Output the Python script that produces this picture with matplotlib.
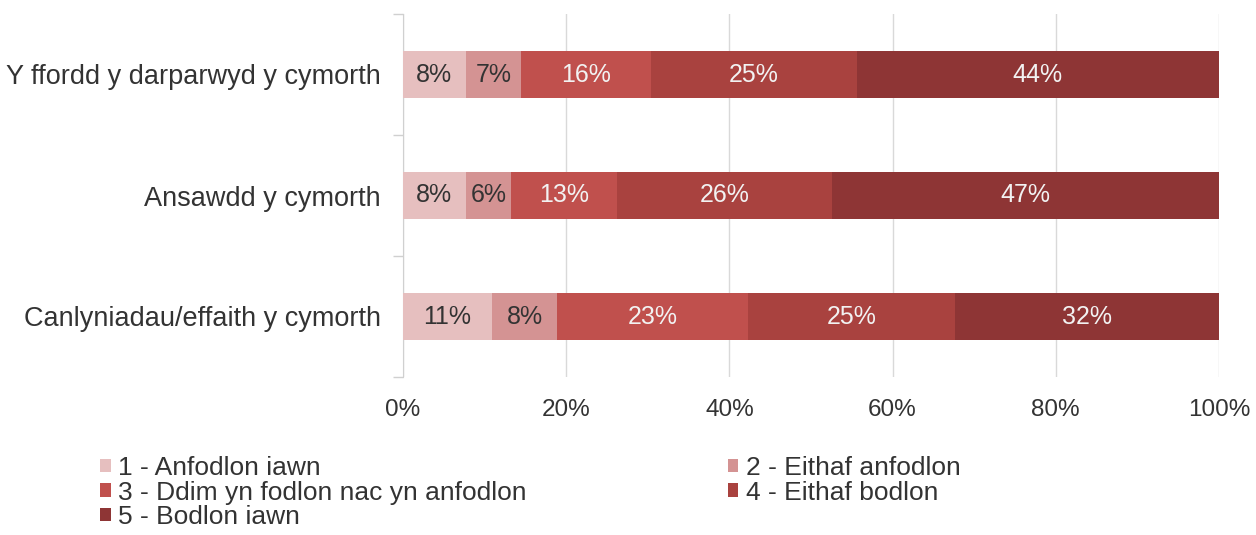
import matplotlib
matplotlib.use("Agg")
import matplotlib.pyplot as plt
from matplotlib.patches import Patch
import numpy as np

plt.rcParams['font.family'] = ['Liberation Sans', 'DejaVu Sans']

categories = ["Y ffordd y darparwyd y cymorth", "Ansawdd y cymorth", "Canlyniadau/effaith y cymorth"]
series_names = ["1 - Anfodlon iawn", "2 - Eithaf anfodlon", "3 - Ddim yn fodlon nac yn anfodlon",
                "4 - Eithaf bodlon", "5 - Bodlon iawn"]
# share (%) per category for each response level
s1 = [7.7, 7.7, 10.9]
s2 = [6.8, 5.5, 8.0]
s3 = [15.9, 13.0, 23.4]
s4 = [25.2, 26.4, 25.4]
s5 = [44.4, 47.4, 32.3]
series = [s1, s2, s3, s4, s5]
colors = ["#e6bfbf", "#d49393", "#c0504d", "#a9423f", "#8e3535"]
text_colors = ["#333333", "#333333", "#f2f2f2", "#f2f2f2", "#f2f2f2"]
xticks = [0, 20, 40, 60, 80, 100]

fig = plt.figure(figsize=(12.56, 5.35), dpi=100)
ax = fig.add_axes([403/1256, 1-377/535, (1219-403)/1256, (377-14)/535])

y = np.arange(len(categories))
left = np.zeros(len(categories))
for vals, c, tc in zip(series, colors, text_colors):
    vals = np.array(vals)
    ax.barh(y, vals, left=left, height=0.39, color=c, zorder=3)
    for yi, l, v in zip(y, left, vals):
        ax.text(l + v/2, yi, f"{v:.0f}%", ha='center', va='center', fontsize=18, color=tc, zorder=4)
    left += vals

ax.set_xlim(0, 100)
ax.set_ylim(2.5, -0.5)
ax.set_xticks(xticks)
ax.set_xticklabels([f"{t}%" for t in xticks], fontsize=17.5, color="#333333")
ax.set_yticks(y)
ax.set_yticklabels(categories, fontsize=19.5, color="#333333")
ax.set_yticks([-0.5, 0.5, 1.5, 2.5], minor=True)
ax.tick_params(axis='y', which='major', length=0, pad=16)
ax.tick_params(axis='y', which='minor', length=7, color="#d0d0d0", width=1)
ax.tick_params(axis='x', length=0, pad=16)
ax.grid(axis='x', color="#d9d9d9", linewidth=1, zorder=0)
for side in ['top', 'right', 'bottom']:
    ax.spines[side].set_visible(False)
ax.spines['left'].set_color("#d0d0d0")

handles = [Patch(facecolor=c, edgecolor='none') for c in colors]
order = [0, 2, 4, 1, 3]
fig.legend([handles[i] for i in order], [series_names[i] for i in order], ncol=2,
           loc='upper left', bbox_to_anchor=(100/1256, 1-456/535), frameon=False,
           borderpad=0, borderaxespad=0,
           fontsize=19, handlelength=0.4, handleheight=0.4, handletextpad=0.3,
           labelspacing=0.02, columnspacing=7.6, labelcolor="#333333")

fig.savefig("out.png", dpi=100)
